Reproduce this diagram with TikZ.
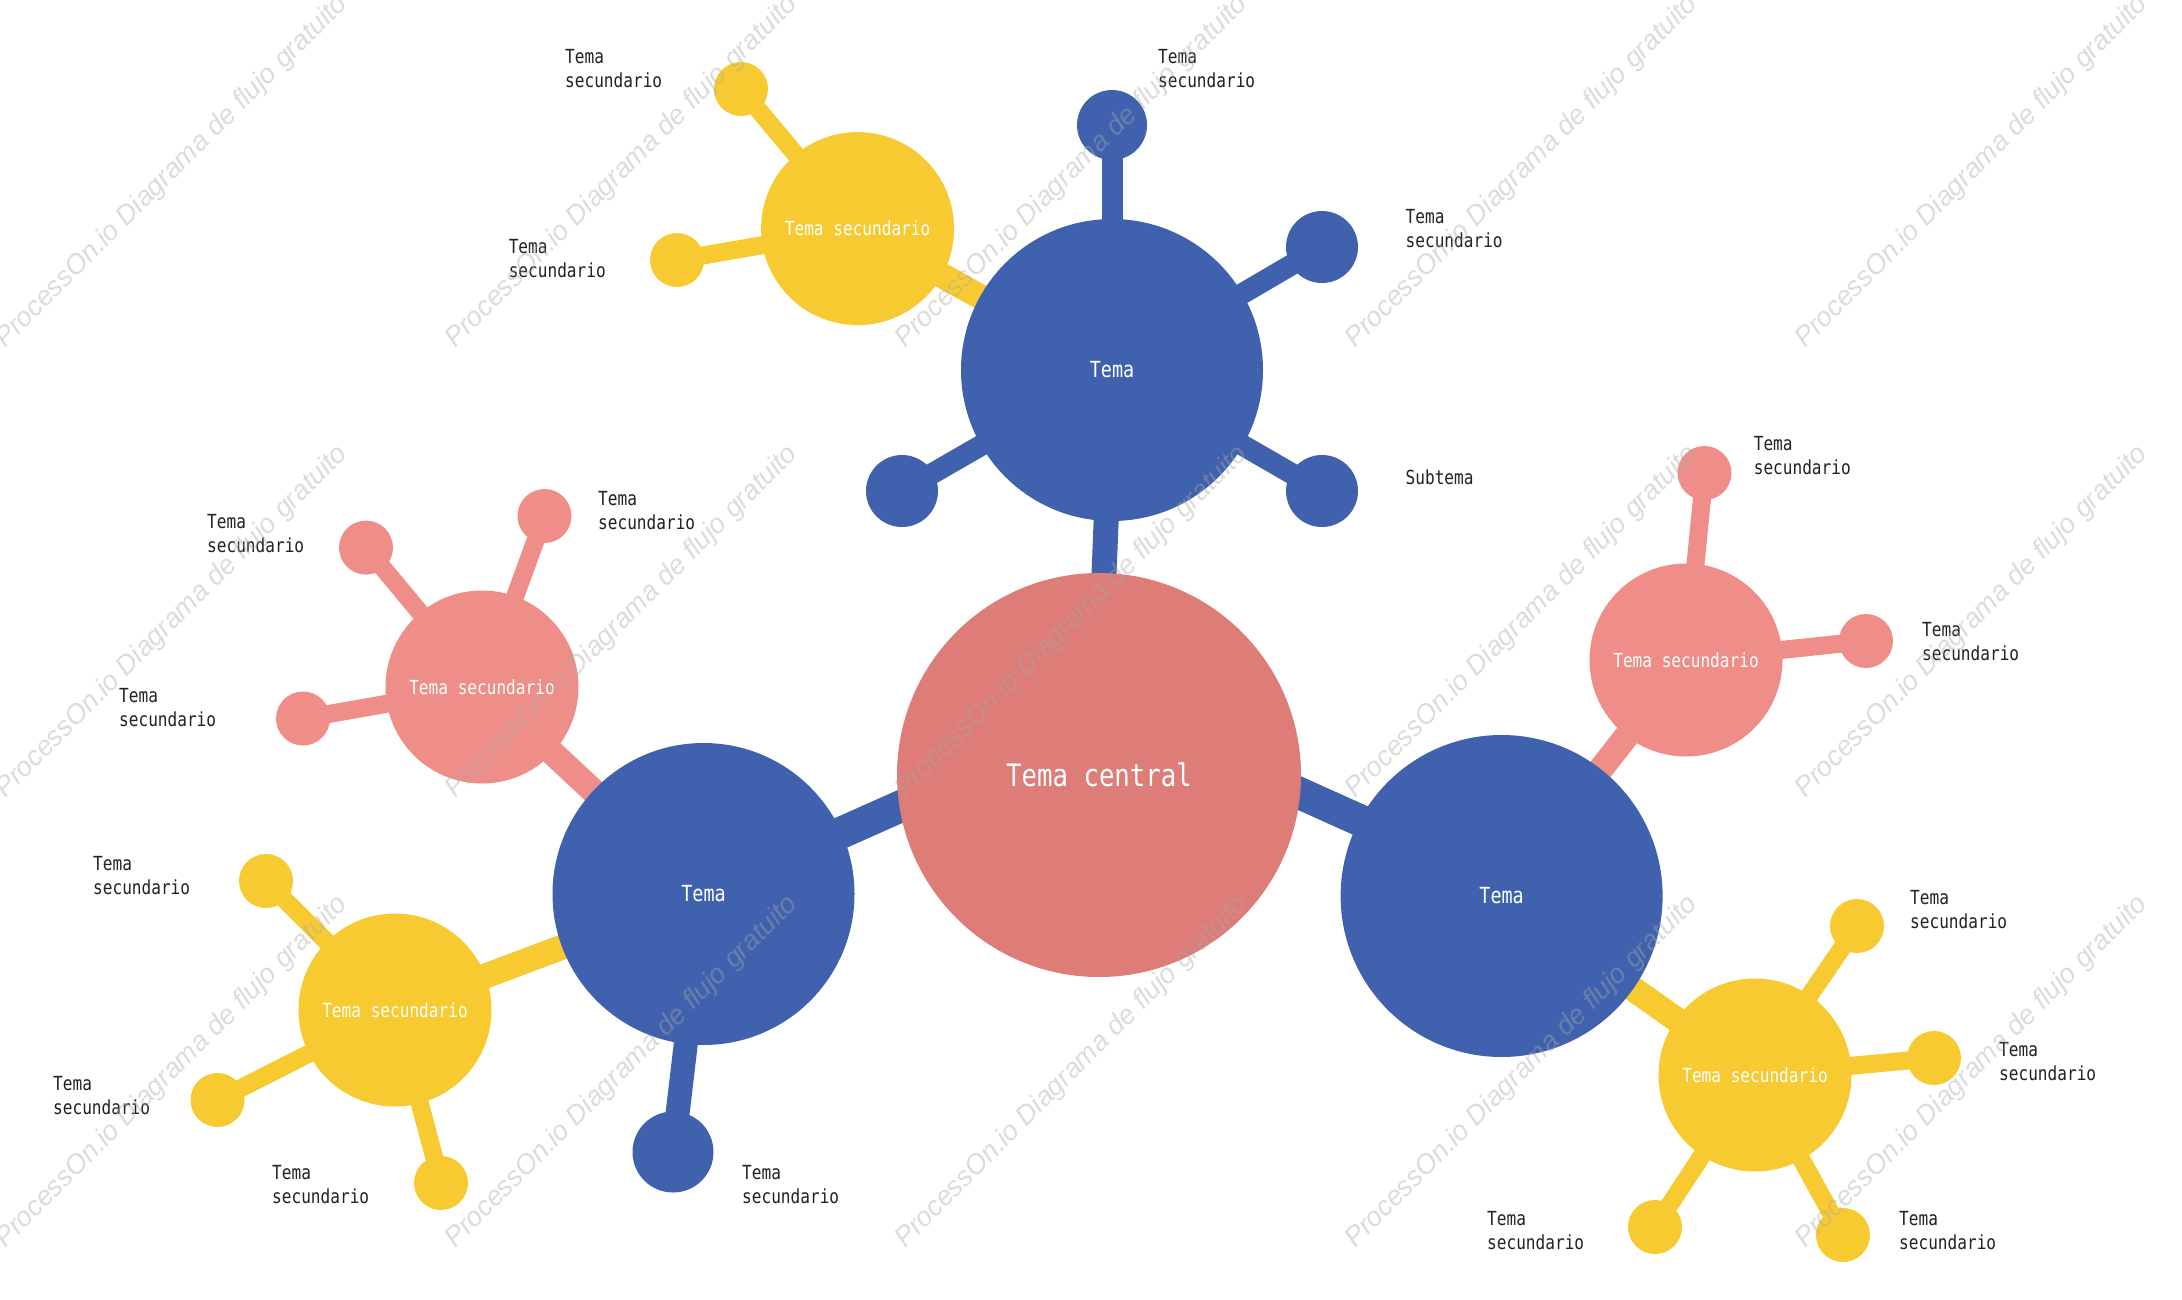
\documentclass[tikz,border=0pt]{standalone}
\usepackage{fontspec}
\newfontfamily\lblfont[FakeStretch=0.83]{DejaVu Sans Mono}
\newfontfamily\wmfont{Liberation Sans}
\definecolor{cblue}{HTML}{4062AE}
\definecolor{ccentral}{HTML}{DE7C78}
\definecolor{cpink}{HTML}{EF8E88}
\definecolor{cyellow}{HTML}{F8CA32}
\definecolor{ctext}{HTML}{222222}
\definecolor{wmgray}{HTML}{A8A8A8}
\pgfdeclarelayer{bglayer}
\pgfdeclarelayer{connlayer}
\pgfdeclarelayer{wmlayer}
\pgfsetlayers{bglayer,connlayer,main,wmlayer}
\tikzset{
  bubble/.style={circle, inner sep=0pt, outer sep=0pt, text=white},
  central/.style={bubble, fill=ccentral, minimum size=404pt, font=\lblfont\fontsize{31}{36}\selectfont},
  topic/.style={bubble, fill=cblue, font=\lblfont\fontsize{22.2}{26}\selectfont},
  subtopic/.style={bubble, minimum size=193pt, font=\lblfont\fontsize{19.4}{24}\selectfont},
  leaf/.style={bubble, minimum size=54pt},
  lbl/.style={anchor=west, align=left, inner sep=0pt, text=ctext, font=\lblfont\fontsize{19.4}{24}\selectfont},
  link/.style={line width=#1, line cap=butt},
  wm/.style={rotate=45, inner sep=0pt, text=wmgray, text opacity=0.4, font=\wmfont\itshape\fontsize{27.4}{30}\selectfont}
}
\begin{document}
\begin{tikzpicture}[x=1pt, y=-1pt]
\useasboundingbox (0,0) rectangle (2182,1299);
\begin{pgfonlayer}{bglayer}
\fill[white] (0,0) rectangle (2182,1299);
\end{pgfonlayer}

% central
\node[central] (C) at (1099,775) {Tema central};
\coordinate (Chub1) at (1099,718);
\coordinate (Chub2) at (1099,703);

% main topics
\node[topic, minimum size=302pt] (BT) at (1112,370) {Tema};
\node[topic, minimum size=302pt] (BL) at (703.5,894) {Tema};
\node[topic, minimum size=322pt] (BR) at (1501.6,896) {Tema};
\coordinate (BRaim) at (1501.6,884);

% top topic children
\node[leaf, fill=cblue, minimum size=70pt] (BT1) at (1112,125) {};
\node[leaf, fill=cblue, minimum size=72pt] (BT2) at (1322,247) {};
\node[leaf, fill=cblue, minimum size=72pt] (BT3) at (1322,491) {};
\node[leaf, fill=cblue, minimum size=72pt] (BT4) at (902,491) {};
\node[subtopic, fill=cyellow] (YT) at (857.6,228.6) {Tema secundario};
\node[leaf, fill=cyellow] (YT1) at (741,89) {};
\node[leaf, fill=cyellow] (YT2) at (677,260) {};

% left topic children
\node[subtopic, fill=cpink] (PL) at (482,687) {Tema secundario};
\node[leaf, fill=cpink] (PL1) at (366,547.6) {};
\node[leaf, fill=cpink] (PL2) at (544.5,516) {};
\node[leaf, fill=cpink] (PL3) at (303,718.5) {};
\node[subtopic, fill=cyellow] (YL) at (395,1010) {Tema secundario};
\node[leaf, fill=cyellow] (YL1) at (266,881) {};
\node[leaf, fill=cyellow] (YL2) at (217.5,1100) {};
\node[leaf, fill=cyellow] (YL3) at (441,1183) {};
\node[leaf, fill=cblue, minimum size=81pt] (BL1) at (673,1152) {};

% right topic children
\node[subtopic, fill=cpink] (PR) at (1686,660) {Tema secundario};
\node[leaf, fill=cpink] (PR1) at (1704.5,473) {};
\node[leaf, fill=cpink] (PR2) at (1866,641) {};
\node[subtopic, fill=cyellow] (YR) at (1755,1075) {Tema secundario};
\node[leaf, fill=cyellow] (YR1) at (1857,926) {};
\node[leaf, fill=cyellow] (YR2) at (1934,1058) {};
\node[leaf, fill=cyellow] (YR3) at (1655,1227) {};
\node[leaf, fill=cyellow] (YR4) at (1843,1235) {};

% connectors
\begin{pgfonlayer}{connlayer}
\draw[link=25, cblue] (Chub2) -- (BT.center);
\draw[link=32, cblue] (Chub1) -- (BL.center);
\draw[link=32, cblue] (Chub2) -- (BRaim);
\foreach \n in {BT1,BT2,BT3,BT4} \draw[link=21, cblue] (BT.center) -- (\n.center);
\draw[link=25, cyellow] (BT.center) -- (YT.center);
\foreach \n in {YT1,YT2} \draw[link=18, cyellow] (YT.center) -- (\n.center);
\draw[link=25, cpink] (BL.center) -- (PL.center);
\foreach \n in {PL1,PL2,PL3} \draw[link=18, cpink] (PL.center) -- (\n.center);
\draw[link=25, cyellow] (BL.center) -- (YL.center);
\foreach \n in {YL1,YL2,YL3} \draw[link=18, cyellow] (YL.center) -- (\n.center);
\draw[link=24, cblue] (BL.center) -- (BL1.center);
\draw[link=25, cpink] (BR.center) -- (PR.center);
\foreach \n in {PR1,PR2} \draw[link=18, cpink] (PR.center) -- (\n.center);
\draw[link=25, cyellow] (BR.center) -- (YR.center);
\foreach \n in {YR1,YR2,YR3,YR4} \draw[link=18, cyellow] (YR.center) -- (\n.center);
\end{pgfonlayer}

% labels
\node[lbl] (L-BT1) at (1158,69) {Tema\\secundario};
\node[lbl] (L-BT2) at (1405.5,229) {Tema\\secundario};
\node[lbl] (L-BT3) at (1405.5,477) {Subtema};
\node[lbl] (L-YT1) at (565,69) {Tema\\secundario};
\node[lbl] (L-YT2) at (508.6,259) {Tema\\secundario};
\node[lbl] (L-PL1) at (207,534) {Tema\\secundario};
\node[lbl] (L-PL2) at (598,511) {Tema\\secundario};
\node[lbl] (L-PL3) at (119,708) {Tema\\secundario};
\node[lbl] (L-YL1) at (93,876) {Tema\\secundario};
\node[lbl] (L-YL2) at (53,1096) {Tema\\secundario};
\node[lbl] (L-YL3) at (272,1185) {Tema\\secundario};
\node[lbl] (L-BL1) at (742,1185) {Tema\\secundario};
\node[lbl] (L-PR1) at (1753.6,456) {Tema\\secundario};
\node[lbl] (L-PR2) at (1922,642) {Tema\\secundario};
\node[lbl] (L-YR1) at (1910,909.5) {Tema\\secundario};
\node[lbl] (L-YR2) at (1999,1062) {Tema\\secundario};
\node[lbl] (L-YR3) at (1487,1231) {Tema\\secundario};
\node[lbl] (L-YR4) at (1899,1231) {Tema\\secundario};

% watermark
\begin{pgfonlayer}{wmlayer}
\foreach \i/\cx in {1/172,2/622,3/1072,4/1522,5/1972}
  \foreach \j/\cy in {1/172,2/622,3/1072}
    \node[wm] (wm-\i-\j) at (\cx,\cy) {ProcessOn.io Diagrama de flujo gratuito};
\end{pgfonlayer}
\end{tikzpicture}
\end{document}
